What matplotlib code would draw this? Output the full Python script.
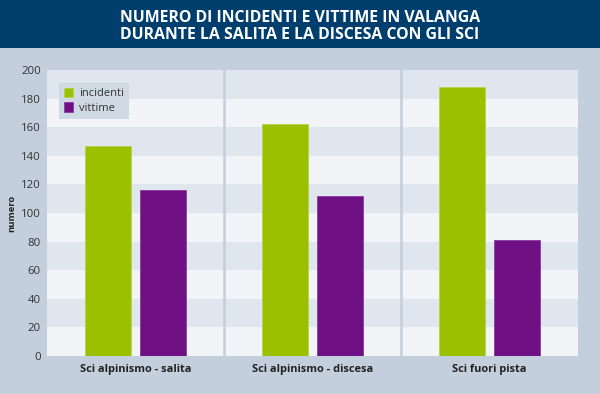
import matplotlib
matplotlib.use("Agg")
import matplotlib.pyplot as plt
from matplotlib.patches import Rectangle
import numpy as np

categories = ["Sci alpinismo - salita", "Sci alpinismo - discesa", "Sci fuori pista"]
incidenti = [147, 162, 188]
vittime = [116, 112, 81]
series_names = ["incidenti", "vittime"]
yticks = [0, 20, 40, 60, 80, 100, 120, 140, 160, 180, 200]
title = "NUMERO DI INCIDENTI E VITTIME IN VALANGA\nDURANTE LA SALITA E LA DISCESA CON GLI SCI"

plt.rcParams['font.family'] = ['Open Sans', 'DejaVu Sans']

bg = "#c3cfdc"
header = "#003e6d"
green = "#9bc000"
purple = "#701085"
stripe_dark = "#e0e6ee"
stripe_light = "#f2f4f8"

fig = plt.figure(figsize=(6, 3.94), dpi=100, facecolor=bg)
fig.patches.append(Rectangle((0, 1 - 48/394), 1, 48/394, transform=fig.transFigure,
                             facecolor=header, edgecolor="none", zorder=0))
fig.text(0.5, 1 - 26.5/394, title, ha="center", va="center", color="white",
         fontsize=11.4, fontweight="bold", linespacing=1.1)

ax = fig.add_axes([47/600, 38/394, 531/600, 286/394])
ax.set_facecolor(stripe_light)
for i, lo in enumerate(yticks[:-1]):
    ax.axhspan(lo, yticks[i + 1], color=stripe_light if i % 2 == 0 else stripe_dark,
               lw=0, zorder=0)

x = np.arange(len(categories))
w = 0.26
off = 0.155
ax.bar(x - off, incidenti, w, color=green, edgecolor="#b5d44a", lw=0.6, label=series_names[0], zorder=2)
ax.bar(x + off, vittime, w, color=purple, edgecolor="#8a3a9c", lw=0.6, label=series_names[1], zorder=2)

for s in [0.5, 1.5]:
    ax.axvline(s, color=bg, lw=1.8, zorder=1)

ax.set_xlim(-0.5, 2.5)
ax.set_ylim(0, 200)
ax.set_yticks(yticks)
ax.set_xticks(x)
ax.set_xticklabels(categories, fontweight="bold", fontsize=7.9, color="#222222")
ax.tick_params(axis="both", length=0)
ax.tick_params(axis="y", labelsize=8.2, labelcolor="#333333", pad=4.5)
ax.tick_params(axis="x", pad=6)
for sp in ax.spines.values():
    sp.set_visible(False)
ax.set_ylabel("numero", fontweight="bold", fontsize=6.8, color="#222222")
ax.yaxis.set_label_coords(-0.058, 0.5)

leg = ax.legend(loc="upper left", bbox_to_anchor=(0.012, 0.975), frameon=True, fontsize=8,
                handlelength=0.8, handleheight=0.9, handletextpad=0.6, borderpad=0.45,
                labelspacing=0.3, fancybox=False)
leg.get_frame().set_facecolor("#cfd9e4")
leg.get_frame().set_edgecolor("none")
leg.get_frame().set_alpha(1)
for t in leg.get_texts():
    t.set_color("#333333")

fig.savefig("out.png", dpi=100, facecolor=bg)
